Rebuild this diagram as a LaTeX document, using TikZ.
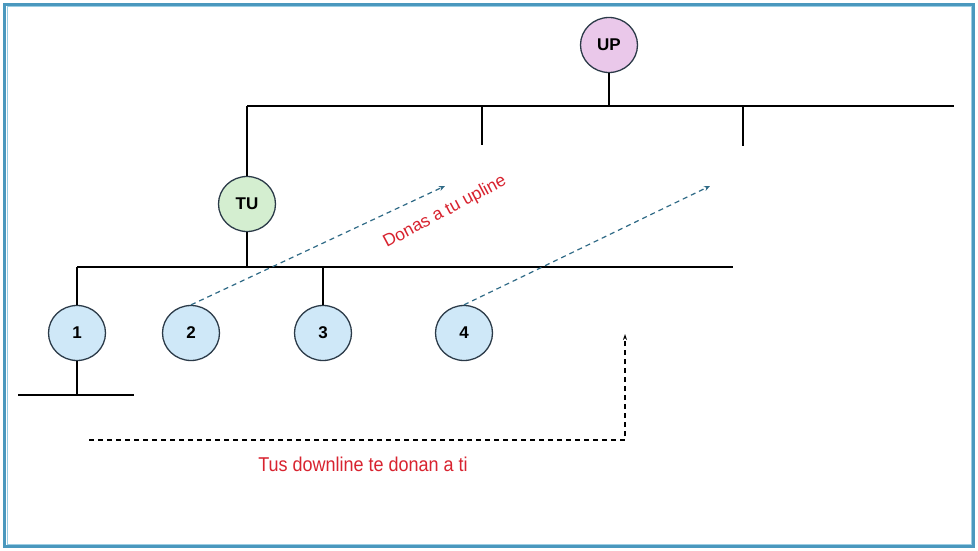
\documentclass[tikz,border=0pt]{standalone}
\usepackage{fontspec}
\setmainfont{Liberation Sans}
\usetikzlibrary{arrows.meta,shapes.geometric}
\definecolor{frameblue}{HTML}{4A98BE}
\definecolor{framelight}{HTML}{9CCDE3}
\definecolor{uppink}{HTML}{EAC8EA}
\definecolor{tugreen}{HTML}{D4EED0}
\definecolor{nodeblue}{HTML}{CFE8F8}
\definecolor{edgedark}{HTML}{2B3A48}
\definecolor{arrowblue}{HTML}{2F6A86}
\definecolor{labelred}{HTML}{D8232F}
\tikzset{
  person/.style={ellipse, draw=edgedark, line width=1.3pt, minimum width=57pt, minimum height=55pt, inner sep=0pt, font=\fontsize{17}{17}\selectfont\bfseries},
  treeline/.style={draw=black, line width=1.4pt},
  upflow/.style={draw=arrowblue, line width=1.2pt, dash pattern=on 5pt off 4pt, -{Stealth[length=6pt,width=5pt]}},
  downflow/.style={draw=black, line width=1.2pt, dash pattern=on 5pt off 4pt, -{Stealth[length=6pt,width=4pt]}},
  redlabel/.style={text=labelred, font=\fontsize{17.5}{17.5}\selectfont}
}
\begin{document}
\begin{tikzpicture}[x=1pt,y=-1pt]
\useasboundingbox (0,0) rectangle (978,551);
\fill[white] (0,0) rectangle (978,551);
\draw[frameblue, line width=3.2pt] (4.5,4.5) rectangle (973.5,546.5);
\draw[framelight, line width=0.8pt] (6.9,6.9) rectangle (971.1,544.1);

% nodes
\node[person, fill=uppink] (UP) at (609,45) {UP};
\node[person, fill=tugreen] (TU) at (247,204) {TU};
\node[person, fill=nodeblue] (n1) at (77,333) {1};
\node[person, fill=nodeblue] (n2) at (191,333) {2};
\node[person, fill=nodeblue] (n3) at (323,333) {3};
\node[person, fill=nodeblue] (n4) at (464,333) {4};

% top bar
\coordinate (tbL) at (247,106);
\coordinate (tbR) at (954,106);
\coordinate (tbA) at (482,106);
\coordinate (tbAe) at (482,145);
\coordinate (tbB) at (743,106);
\coordinate (tbBe) at (743,146);
\draw[treeline] (tbL) -- (tbR);
\draw[treeline] (UP) -- (UP |- tbL);
\draw[treeline] (tbA) -- (tbAe);
\draw[treeline] (tbB) -- (tbBe);
\draw[treeline] (tbL) -- (TU);

% middle bar
\coordinate (mbL) at (77,267);
\coordinate (mbR) at (733,267);
\coordinate (mb3) at (323,267);
\draw[treeline] (mbL) -- (mbR);
\draw[treeline] (TU) -- (TU |- mbL);
\draw[treeline] (mbL) -- (n1);
\draw[treeline] (mb3) -- (n3);

% bottom bar
\coordinate (bb1) at (77,395);
\coordinate (bbL) at (18,395);
\coordinate (bbR) at (134,395);
\draw[treeline] (bbL) -- (bbR);
\draw[treeline] (n1) -- (bb1);

% upline arrows
\coordinate (upA) at (445,186);
\coordinate (upB) at (710,186);
\draw[upflow] (n2.north) -- (upA);
\draw[upflow] (n4.north) -- (upB);
\node[redlabel, rotate=28] (donas) at (445,212) {Donas a tu upline};

% downline arrow
\coordinate (dS) at (89,440);
\coordinate (dC) at (625,440);
\coordinate (dE) at (625,334);
\draw[downflow] (dS) -- (dC) -- (dE);
\node[redlabel, font=\fontsize{20}{20}\selectfont, xscale=0.9] (tus) at (363,464) {Tus downline te donan a ti};
\end{tikzpicture}
\end{document}
